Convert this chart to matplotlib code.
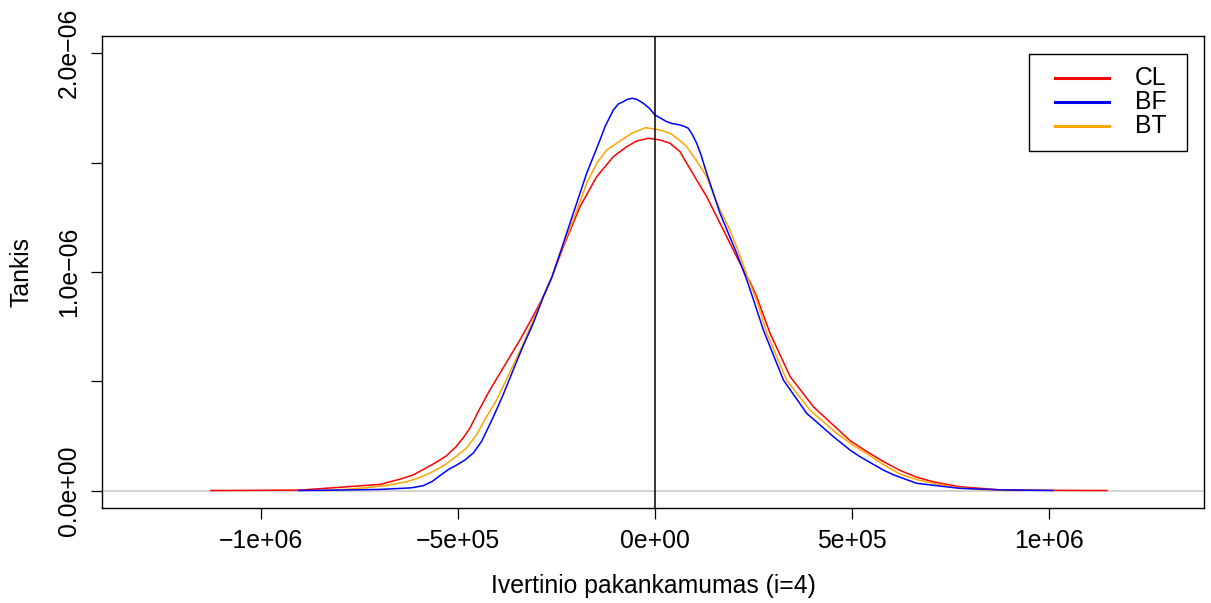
import numpy as np
import matplotlib
matplotlib.use("Agg")
import matplotlib.pyplot as plt
from matplotlib.lines import Line2D
from matplotlib.patches import Rectangle

plt.rcParams['font.family'] = ['Liberation Sans', 'DejaVu Sans']

# density estimates (x in 1e6, y in 1e-6)
cl_x = [-1.127, -1.000, -0.901, -0.782, -0.698, -0.647, -0.614, -0.558, -0.530, -0.505,
        -0.485, -0.470, -0.444, -0.419, -0.381, -0.343, -0.305, -0.2835, -0.262, -0.2327,
        -0.1904, -0.148, -0.1058, -0.0718, -0.0464, -0.017, 0.0127, 0.0381, 0.0635, 0.0805,
        0.1058, 0.1312, 0.182, 0.2241, 0.241, 0.2581, 0.292, 0.343, 0.402, 0.470,
        0.495, 0.537, 0.579, 0.622, 0.664, 0.706, 0.774, 0.876, 1.000, 1.147]
cl_y = [0.000, 0.001, 0.002, 0.017, 0.028, 0.052, 0.071, 0.126, 0.158, 0.200,
        0.245, 0.285, 0.377, 0.460, 0.574, 0.688, 0.812, 0.8866, 0.975, 1.1153,
        1.2983, 1.4355, 1.527, 1.5727, 1.5988, 1.6111, 1.6034, 1.5883, 1.5499, 1.4968,
        1.4204, 1.344, 1.161, 1.0087, 0.955, 0.8866, 0.719, 0.521, 0.383, 0.270,
        0.228, 0.179, 0.133, 0.092, 0.061, 0.040, 0.017, 0.003, 0.001, 0.000]

bf_x = [-0.904, -0.800, -0.698, -0.620, -0.588, -0.565, -0.546, -0.525, -0.503, -0.482,
        -0.461, -0.440, -0.410, -0.385, -0.360, -0.335, -0.309, -0.2835, -0.262, -0.2411,
        -0.2074, -0.1734, -0.1396, -0.1269, -0.1058, -0.0931, -0.0805, -0.0711, -0.0576, -0.0457,
        -0.0297, -0.0152, 0.000, 0.0297, 0.0431, 0.0635, 0.0736, 0.0845, 0.0939, 0.1058,
        0.1168, 0.1312, 0.165, 0.2074, 0.233, 0.2495, 0.275, 0.326, 0.385, 0.453,
        0.495, 0.520, 0.579, 0.605, 0.664, 0.749, 0.774, 0.876, 1.008]
bf_y = [0.000, 0.002, 0.005, 0.012, 0.022, 0.042, 0.068, 0.095, 0.117, 0.140,
        0.172, 0.225, 0.338, 0.440, 0.551, 0.660, 0.765, 0.8866, 0.975, 1.0851,
        1.2681, 1.4511, 1.6034, 1.6642, 1.7406, 1.7681, 1.7786, 1.7886, 1.7941, 1.7886,
        1.7713, 1.7498, 1.7177, 1.6871, 1.6789, 1.672, 1.6661, 1.6569, 1.6308, 1.5883,
        1.5348, 1.4511, 1.2681, 1.0851, 0.963, 0.875, 0.734, 0.505, 0.353, 0.246,
        0.185, 0.155, 0.094, 0.072, 0.033, 0.015, 0.010, 0.003, 0.000]

bt_x = [-0.843, -0.780, -0.732, -0.680, -0.630, -0.600, -0.571, -0.535, -0.503, -0.478,
        -0.453, -0.430, -0.402, -0.370, -0.334, -0.300, -0.2835, -0.262, -0.2411, -0.2074,
        -0.1734, -0.148, -0.1226, -0.0888, -0.0591, -0.0236, 0.0127, 0.0381, 0.058, 0.0805,
        0.104, 0.1312, 0.147, 0.165, 0.190, 0.2157, 0.237, 0.2581, 0.284, 0.334,
        0.393, 0.461, 0.500, 0.537, 0.580, 0.622, 0.664, 0.706, 0.760, 0.820, 0.901]
bt_y = [0.000, 0.006, 0.013, 0.024, 0.040, 0.058, 0.080, 0.115, 0.158, 0.195,
        0.255, 0.330, 0.414, 0.535, 0.673, 0.815, 0.8866, 0.975, 1.0851, 1.2375,
        1.4053, 1.4968, 1.5576, 1.5988, 1.6339, 1.6597, 1.6491, 1.6339, 1.608, 1.5727,
        1.512, 1.4355, 1.361, 1.2834, 1.192, 1.075, 0.965, 0.870, 0.719, 0.505,
        0.368, 0.262, 0.210, 0.170, 0.118, 0.075, 0.050, 0.033, 0.015, 0.005, 0.000]

labels = ['CL', 'BF', 'BT']
colors = ['#FF0000', '#0000FF', '#FFA500']

series = [(cl_x, cl_y), (bf_x, bf_y), (bt_x, bt_y)]

fs = 17.8
fig = plt.figure(figsize=(12.11, 6.03), dpi=100)
ax = fig.add_axes([102/1211, 95/603, 1102/1211, 472/603])

ax.axhline(0, color='#cccccc', lw=1.2, zorder=1)
for i in [0, 2, 1]:
    xs, ys = series[i]
    ax.plot(np.array(xs) * 1e6, np.array(ys) * 1e-6, color=colors[i], lw=1.1, zorder=2)
ax.axvline(0, color='black', lw=1.1, zorder=3)

ax.set_xlim(-1.4036e6, 1.3934e6)
ax.set_ylim(-0.080e-6, 2.079e-6)

ax.set_xticks([-1e6, -5e5, 0, 5e5, 1e6])
ax.set_xticklabels(['\u22121e+06', '\u22125e+05', '0e+00', '5e+05', '1e+06'], fontsize=fs)
ax.set_yticks([0, 5e-7, 1e-6, 1.5e-6, 2e-6])
ax.set_yticklabels(['0.0e+00', '', '1.0e\u221206', '', '2.0e\u221206'], fontsize=fs,
                   rotation=90, va='center')
ax.tick_params(axis='x', length=8, width=0.9, pad=7)
ax.tick_params(axis='y', length=8, width=0.9, pad=7)
for s in ax.spines.values():
    s.set_linewidth(1.0)

ax.set_xlabel('Ivertinio pakankamumas (i=4)', fontsize=fs, labelpad=15)
ax.set_ylabel('Tankis', fontsize=fs, labelpad=17)

# legend box, drawn in figure pixels
W, H = 1211, 603
fig.patches.append(Rectangle((1029/W, 1 - 151/H), 158/W, 97/H, transform=fig.transFigure,
                             facecolor='white', edgecolor='black', lw=1.0, zorder=5))
for k, (lab, col) in enumerate(zip(labels, colors)):
    yy = 1 - (77.7 + 24.3 * k) / H
    fig.lines.append(Line2D([1055/W, 1109/W], [yy, yy], transform=fig.transFigure,
                            color=col, lw=2.2, zorder=6))
    fig.text(1135/W, yy, lab, fontsize=fs, va='center', ha='left', zorder=6)

fig.savefig('out.png', dpi=100)
